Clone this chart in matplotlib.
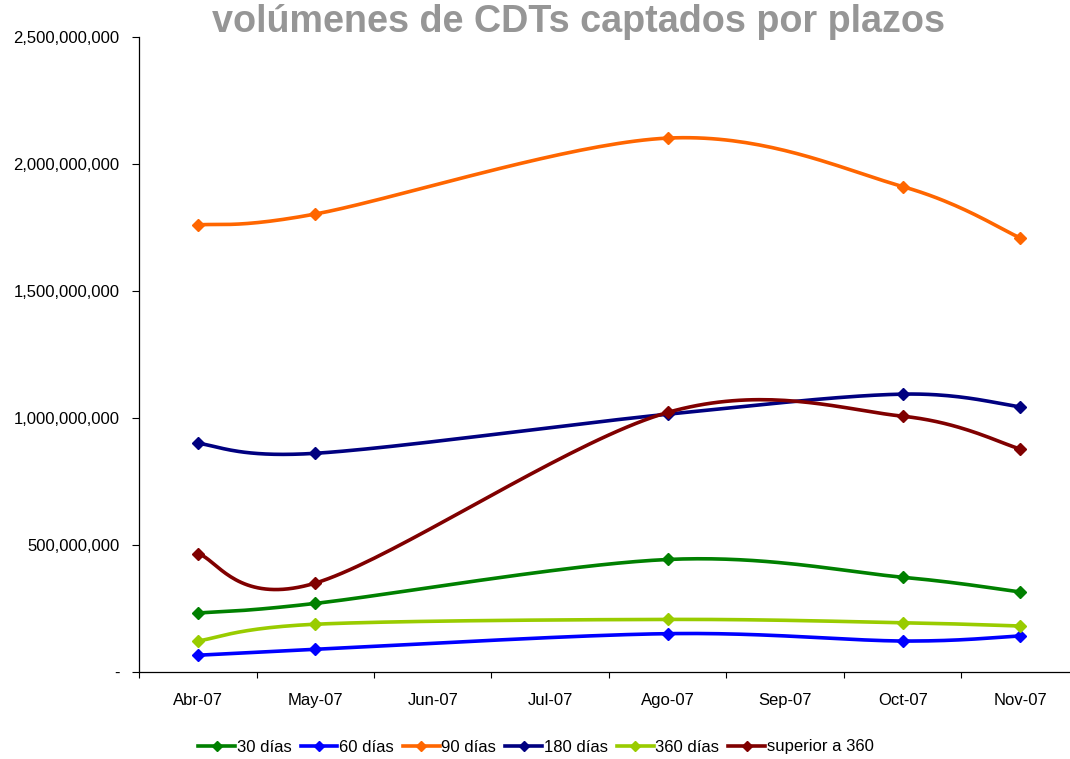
import numpy as np
import matplotlib
matplotlib.use("Agg")
import matplotlib.pyplot as plt
from matplotlib.ticker import FuncFormatter

# categories on the x axis and positions of months that have data
months = ["Abr-07", "May-07", "Jun-07", "Jul-07", "Ago-07", "Sep-07", "Oct-07", "Nov-07"]
data_idx = [0, 1, 4, 6, 7]

# values (pesos)
d30 = [232e6, 270e6, 443e6, 373e6, 315e6]
d60 = [66e6, 89e6, 151e6, 122e6, 142e6]
d90 = [1760e6, 1803e6, 2102e6, 1911e6, 1709e6]
d180 = [900e6, 861e6, 1015e6, 1094e6, 1044e6]
d360 = [122e6, 188e6, 207e6, 194e6, 181e6]
sup360 = [466e6, 350e6, 1022e6, 1007e6, 878e6]

series = [
    ("30 días", d30, "#008000"),
    ("60 días", d60, "#0000FF"),
    ("90 días", d90, "#FF6600"),
    ("180 días", d180, "#000080"),
    ("360 días", d360, "#99CC00"),
    ("superior a 360", sup360, "#800000"),
]

plt.rcParams["font.family"] = ["Liberation Sans", "DejaVu Sans"]


def smooth(xs, ys, n=40):
    # Excel-style smoothed line: Catmull-Rom segments as cubic Bezier
    xs = np.asarray(xs, float)
    ys = np.asarray(ys, float)
    px = np.concatenate([[xs[0]], xs, [xs[-1]]])
    py = np.concatenate([[ys[0]], ys, [ys[-1]]])
    out_x, out_y = [], []
    t = np.linspace(0, 1, n)
    for i in range(1, len(px) - 2):
        p0 = np.array([px[i], py[i]])
        p3 = np.array([px[i + 1], py[i + 1]])
        c1 = p0 + (np.array([px[i + 1], py[i + 1]]) - np.array([px[i - 1], py[i - 1]])) / 6
        c2 = p3 - (np.array([px[i + 2], py[i + 2]]) - np.array([px[i], py[i]])) / 6
        b = ((1 - t) ** 3)[:, None] * p0 + (3 * (1 - t) ** 2 * t)[:, None] * c1 \
            + (3 * (1 - t) * t ** 2)[:, None] * c2 + (t ** 3)[:, None] * p3
        out_x.extend(b[:, 0])
        out_y.extend(b[:, 1])
    return out_x, out_y


fig = plt.figure(figsize=(10.7, 7.59), dpi=100)
ax = fig.add_axes([139 / 1070, 1 - 672 / 759, 940 / 1070, 635 / 759])

for label, vals, color in series:
    sx, sy = smooth(data_idx, vals)
    ax.plot(sx, sy, color=color, lw=2.6, solid_capstyle="round")
    ax.plot(data_idx, vals, ls="none", marker="D", ms=6.5, color=color)
    ax.plot([], [], color=color, lw=2.6, marker="D", ms=5.5, label=label)

ax.set_xlim(-0.5, 7.5)
ax.set_ylim(0, 2.5e9)
ax.set_yticks(np.arange(0, 2.5e9 + 1, 5e8))
ax.yaxis.set_major_formatter(FuncFormatter(lambda v, p: "-" if v == 0 else f"{v:,.0f}"))
ax.set_xticks(range(len(months)))
ax.set_xticklabels(months)
ax.set_xticks(np.arange(-0.5, 8, 1), minor=True)
ax.tick_params(axis="x", which="major", length=0, pad=15, labelsize=12)
ax.tick_params(axis="x", which="minor", length=4, direction="out", width=0.8)
ax.tick_params(axis="y", length=5, width=0.8, pad=9, labelsize=12)

for side in ["top", "right"]:
    ax.spines[side].set_visible(False)
for side in ["left", "bottom"]:
    ax.spines[side].set_linewidth(0.9)

fig.text(578 / 1070, 1 - 22 / 759, "volúmenes de CDTs captados por plazos",
         ha="center", va="center", fontsize=27.2, fontweight="bold", color="#969696")

fig.legend(loc="center", bbox_to_anchor=(536 / 1070, 1 - 747 / 759), ncol=6,
           frameon=False, fontsize=12, handlelength=2.2, handletextpad=0.1,
           columnspacing=0.55)

fig.savefig("out.png", dpi=100)
